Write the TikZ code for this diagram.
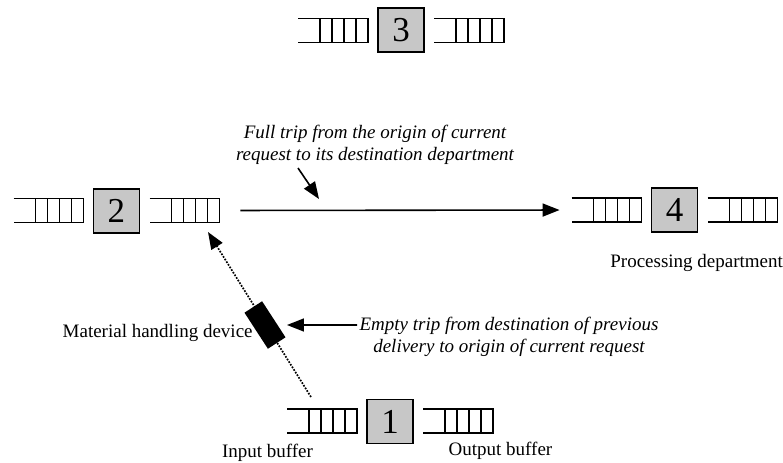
\documentclass[tikz,border=0pt]{standalone}
\usepackage{fontspec}
\setmainfont{Liberation Serif}
\usetikzlibrary{arrows.meta}

\begin{document}
\begin{tikzpicture}
  [
    x=0.5pt, y=-0.5pt,
    dept/.style={draw=black, line width=0.7pt, fill=black!22, minimum width=23pt,
    minimum height=22pt, inner sep=0pt, font=\fontsize{17.5}{17.5}\selectfont},
    buf/.style={minimum width=34.5pt, minimum height=11.5pt, inner sep=0pt},
    lbl/.style={font=\fontsize{9.5}{11}\selectfont, inner sep=0pt},
    note/.style={inner sep=0pt, align=center, font=\fontsize{9.5}{11}\selectfont\itshape},
    ld/.style={line width=0.8pt, -{Triangle[length=8.5pt,width=6.5pt]}}
  ]
  \useasboundingbox (0,0) rectangle (783,462);

  \node (d3) at (401, 30.0) [dept] {3};
  \node (d2) at (116.5, 211) [dept] {2};
  \node (d4) at (674.5, 210) [dept] {4};
  \node (d1) at (390, 421.5) [dept] {1};

  \node (b3in)  at (333, 30.5) [buf] {};
  \node (b3out) at (469, 30.5) [buf] {};
  \node (b2in)  at (48.5, 210.5) [buf] {};
  \node (b2out) at (184.5, 210.5) [buf] {};
  \node (b4in)  at (606.5, 210) [buf] {};
  \node (b4out) at (742.5, 210) [buf] {};
  \node (b1in)  at (322, 421) [buf] {};
  \node (b1out) at (458, 421) [buf] {};

  \foreach \b in {b3in,b3out,b2in,b2out,b4in,b4out,b1in,b1out} {
    \draw [line width=0.75pt] (\b.north west) -- (\b.north east)
      -- (\b.south east) -- (\b.south west);
    \foreach \k in {1,...,4}
      \draw [line width=0.75pt] ([xshift=-\k*6pt]\b.north east)
        -- ([xshift=-\k*6pt]\b.south east);
  }

  \node (proc)   at (610, 267) [lbl, anchor=base west] {Processing department};
  \node (inlbl)  at (267.5, 457) [lbl, anchor=base] {Input buffer};
  \node (outlbl) at (500.5, 455) [lbl, anchor=base] {Output buffer};
  \node (mhdlbl) at (253, 337) [lbl, anchor=base east] {Material handling device};

  \node (full) at (375, 145) [note]
    {Full trip from the origin of current\\ request to its destination department};
  \node (empty) at (509, 337) [note]
    {Empty trip from destination of previous\\ delivery to origin of current request};

  \coordinate (etail) at (311, 397);
  \coordinate (ehead) at (208, 232);
  \coordinate (ftail) at (298, 168);
  \coordinate (fhead) at (319, 199);

  \draw [ld, shorten <=10.5pt, shorten >=6pt] (b2out.east) -- (b4in.west);
  \draw [ld] (ftail) -- (fhead);
  \draw [ld, line width=0.85pt, dash pattern=on 0.85pt off 0.7pt] (etail) -- (ehead);

  \node (mhd) at (265, 325) [fill=black, minimum width=21.5pt,
    minimum height=10.5pt, inner sep=0pt, rotate=-57] {};

  \draw [ld, shorten <=1pt, shorten >=4.5pt] (empty.west |- mhd) -- (mhd);
\end{tikzpicture}
\end{document}
